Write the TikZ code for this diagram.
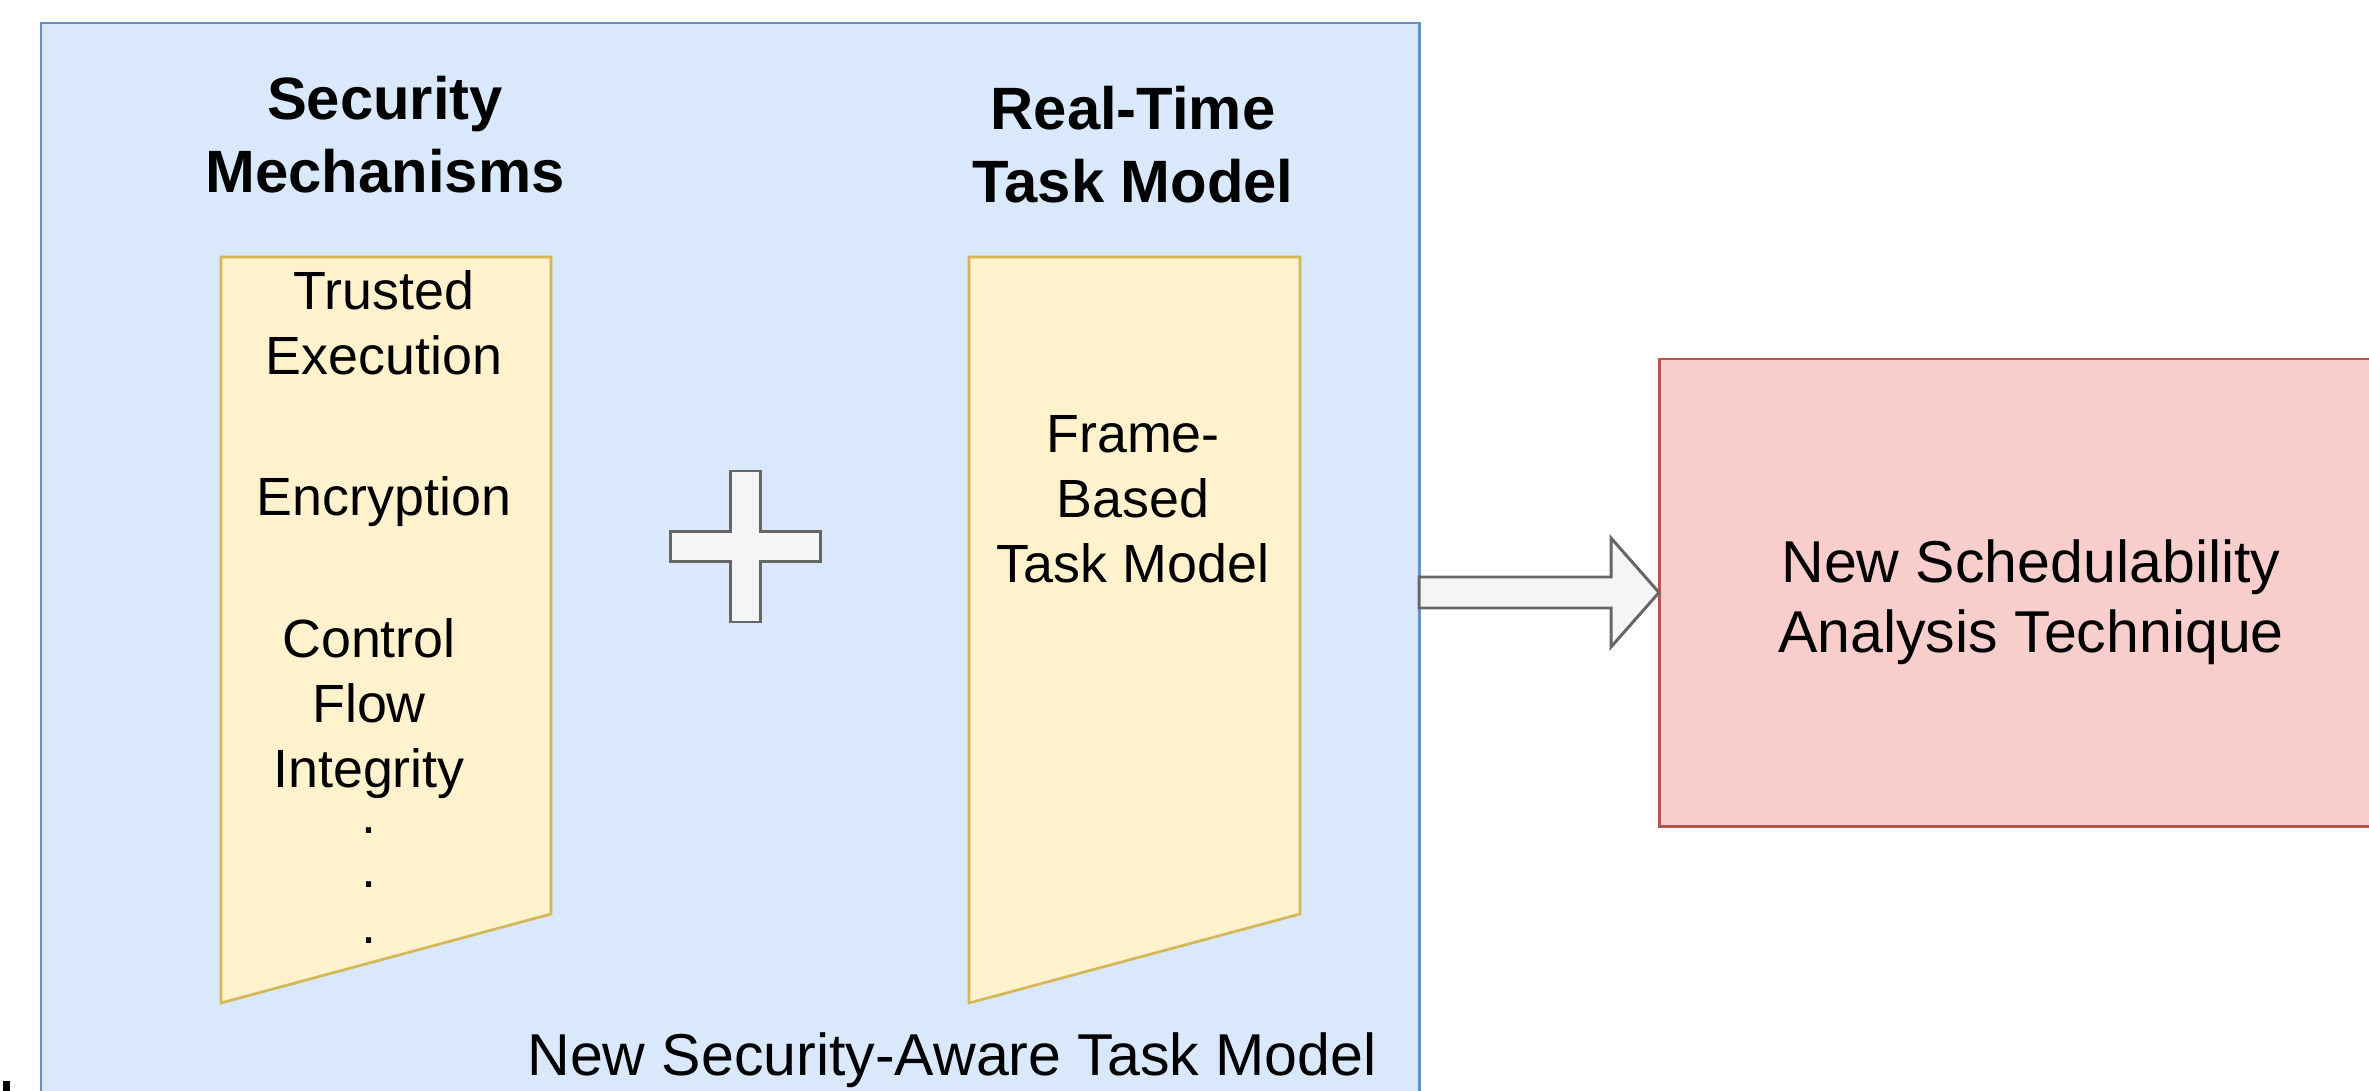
\documentclass[tikz,border=0pt]{standalone}
\usepackage{fontspec}
\setmainfont{Liberation Sans}
\usepackage{tikz}
\usetikzlibrary{arrows.meta}

\definecolor{blueFill}{HTML}{DAE8FC}
\definecolor{blueLine}{HTML}{6C8EBF}
\definecolor{yellowFill}{HTML}{FFF2CC}
\definecolor{yellowLine}{HTML}{D6B656}
\definecolor{redFill}{HTML}{F8CECC}
\definecolor{redLine}{HTML}{B85450}
\definecolor{grayFill}{HTML}{F5F5F5}
\definecolor{grayLine}{HTML}{666666}

\begin{document}
\begin{tikzpicture}[x=0.01cm, y=-0.01cm,
    title/.style={font=\bfseries\fontsize{17}{20.8}\selectfont, align=center, inner sep=0pt},
    item/.style={font=\fontsize{15.3}{18.5}\selectfont, align=center, inner sep=0pt},
    label/.style={font=\fontsize{16.8}{20}\selectfont, align=center, inner sep=0pt}]
    \useasboundingbox (0, 0) rectangle (2369, 1091);
    \clip (0, 0) rectangle (2369, 1091);

    % The security-aware task model box
    \draw[blueLine, fill=blueFill, line width=0.85pt] (41, 23) rectangle (1419, 1140);
    \coordinate (modelEast) at (1419, 592.5);

    % Security mechanisms
    \node[title] (secTitle) at (385, 135) {Security\\Mechanisms};
    \draw[yellowLine, fill=yellowFill, line width=0.75pt]
        (221, 257) -- (551, 257) -- (551, 914) -- (221, 1003) -- cycle;
    \node[item] (trusted) at (384, 323) {Trusted\\Execution};
    \node[item] (encrypt) at (384, 502) {Encryption};
    \node[item] (cfi) at (369, 709) {Control\\Flow\\Integrity};
    \node[item] (dotA) at (369, 831) {.};
    \node[item] (dotB) at (369, 885) {.};
    \node[item] (dotC) at (369, 941) {.};

    % Plus sign
    \draw[grayLine, fill=grayFill, line width=0.85pt]
        (730, 471) -- (760, 471) -- (760, 531.5) -- (820, 531.5) -- (820, 561.5)
        -- (760, 561.5) -- (760, 622) -- (730, 622) -- (730, 561.5) -- (670, 561.5)
        -- (670, 531.5) -- (730, 531.5) -- cycle;

    % Real-time task model
    \node[title] (rtTitle) at (1133, 145) {Real-Time\\Task Model};
    \draw[yellowLine, fill=yellowFill, line width=0.75pt]
        (969, 257) -- (1300, 257) -- (1300, 914) -- (969, 1003) -- cycle;
    \node[item] (frame) at (1133, 499) {Frame-\\Based\\Task Model};

    \node[label] (modelLabel) at (952, 1060) {New Security-Aware Task Model};

    % The analysis box
    \draw[redLine, fill=redFill, line width=0.85pt] (1659, 359) rectangle (2420, 826);
    \coordinate (analysisWest) at (1659, 592.5);
    \node[label] (analysis) at (2031, 602) {New Schedulability\\Analysis Technique};

    % Block arrow between the boxes
    \draw[grayLine, fill=grayFill, line width=0.85pt]
        (modelEast) ++(0, -15.5) -- (1611, 577) -- (1611, 538) -- (analysisWest)
        -- (1611, 647) -- (1611, 608) -- ++(-192, 0) -- cycle;

    % Cut-off mark
    \fill[black] (3, 1081) rectangle (10, 1091);
\end{tikzpicture}
\end{document}
